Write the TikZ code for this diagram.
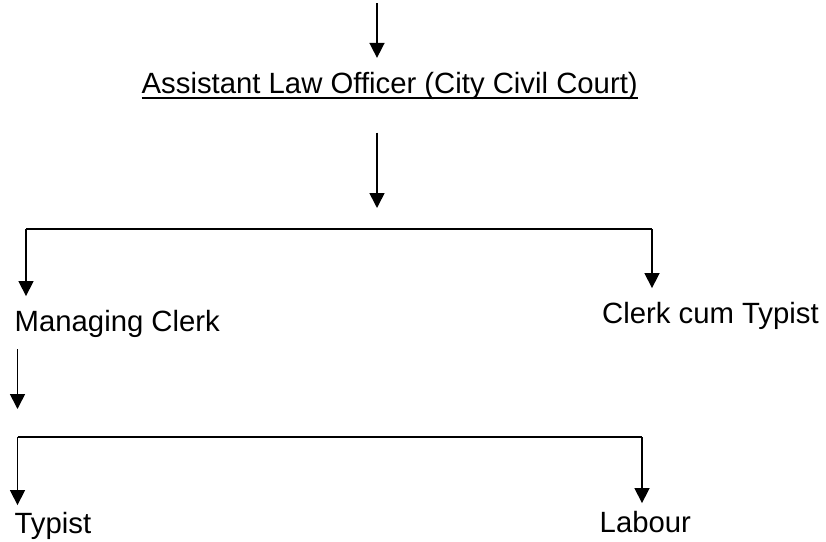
\documentclass[tikz,border=0pt]{standalone}
\usepackage{fontspec}
\setmainfont{Liberation Sans}
\usetikzlibrary{arrows.meta, positioning}

\begin{document}
\begin{tikzpicture}[x=1pt, y=-1pt,
    post/.style={inner sep=0pt, anchor=base west, font=\fontsize{29.3}{35}\selectfont},
    link/.style={line width=1.6pt},
    down arrow/.style={line width=1.6pt, -{Triangle[length=15pt, width=15pt]}}
]
\useasboundingbox (0,0) rectangle (826,541);

% 职位
\node[post] (alo) at (141.5,93.3) {Assistant Law Officer (City Civil Court)};
\node[post] (mc) at (14.5,331) {Managing Clerk};
\node[post] (cct) at (602,323) {Clerk cum Typist};
\node[post] (ty) at (14.5,533) {Typist};
\node[post] (lab) at (599.5,532) {Labour};

% 下划线
\draw[line width=1.8pt] ([yshift=-5pt]alo.base west) -- ([yshift=-5pt]alo.base east);

% 连接点
\coordinate (top) at (377,3);
\coordinate (j1l) at (26,229);
\coordinate (j1r) at (652,229);
\coordinate (j2l) at (17.5,437);
\coordinate (j2r) at (642,437);

% 第一层
\draw[down arrow, shorten >=14pt] (top) -- (top |- alo.north);
\draw[down arrow, shorten <=33pt, shorten >=21pt] (top |- alo.south) -- (top |- j1l);
\draw[link] (j1l) -- (j1r);
\draw[down arrow, shorten >=13.5pt] (j1l) -- (j1l |- mc.north);
\draw[down arrow, shorten >=13.5pt] (j1r) -- (j1r |- cct.north);

% 第二层
\draw[down arrow, shorten <=12pt, shorten >=28pt] (j2l |- mc.south) -- (j2l);
\draw[link] (j2l) -- (j2r);
\draw[down arrow, shorten >=6.5pt] (j2l) -- (j2l |- ty.north);
\draw[down arrow, shorten >=7.5pt] (j2r) -- (j2r |- lab.north);
\end{tikzpicture}
\end{document}
